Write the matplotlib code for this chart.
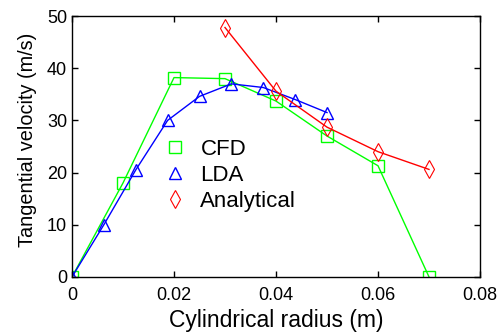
import matplotlib
matplotlib.use("Agg")
import matplotlib.pyplot as plt
from matplotlib.lines import Line2D

cfd_x = [0, 0.01, 0.02, 0.03, 0.04, 0.05, 0.06, 0.07]
cfd_y = [0, 18, 38.2, 38, 33.7, 27, 21.3, 0]
lda_x = [0, 0.00625, 0.0125, 0.01875, 0.025, 0.03125, 0.0375, 0.04375, 0.05]
lda_y = [0, 10, 20.5, 30, 34.6, 37, 36.3, 34, 31.5]
ana_x = [0.03, 0.04, 0.05, 0.06, 0.07]
ana_y = [47.8, 35.6, 28.7, 24, 20.6]

plt.rcParams['font.family'] = ['Liberation Sans', 'DejaVu Sans']
fig = plt.figure(figsize=(5, 3.34), dpi=100)
ax = fig.add_axes([0.144, 0.171, 0.816, 0.781])
styles = [
    dict(color='#00ff00', marker='s', ms=9, mew=1, label='CFD'),
    dict(color='#0000ff', marker='^', ms=9, mew=1, label='LDA'),
    dict(color='#ff0000', marker='d', ms=9, mew=0.8, label='Analytical'),
]
for (x, y), st in zip([(cfd_x, cfd_y), (lda_x, lda_y), (ana_x, ana_y)], styles):
    ax.plot(x, y, lw=1, mfc='none', **st)
handles = [Line2D([], [], linestyle='none', mfc='none', **st) for st in styles]
ax.set_xlim(0, 0.08)
ax.set_ylim(0, 50)
ax.set_xticks([0, 0.02, 0.04, 0.06, 0.08])
ax.set_xticklabels(['0', '0.02', '0.04', '0.06', '0.08'])
ax.set_yticks([0, 10, 20, 30, 40, 50])
ax.tick_params(direction='in', top=True, right=True, labelsize=13, length=4, width=1)
ax.tick_params(axis='x', pad=7)
for s in ax.spines.values():
    s.set_linewidth(1)
ax.set_xlabel('Cylindrical radius (m)', fontsize=16.5, labelpad=4)
ax.set_ylabel('Tangential velocity (m/s)', fontsize=14.3)
ax.yaxis.set_label_coords(-0.085, 0.525)
ax.legend(handles=handles, loc='upper left', bbox_to_anchor=(0.2255, 0.528), frameon=False,
          fontsize=16, handlelength=1.0, labelspacing=0.22, handletextpad=0.64,
          borderaxespad=0, borderpad=0)
fig.savefig('out.png', dpi=100)
